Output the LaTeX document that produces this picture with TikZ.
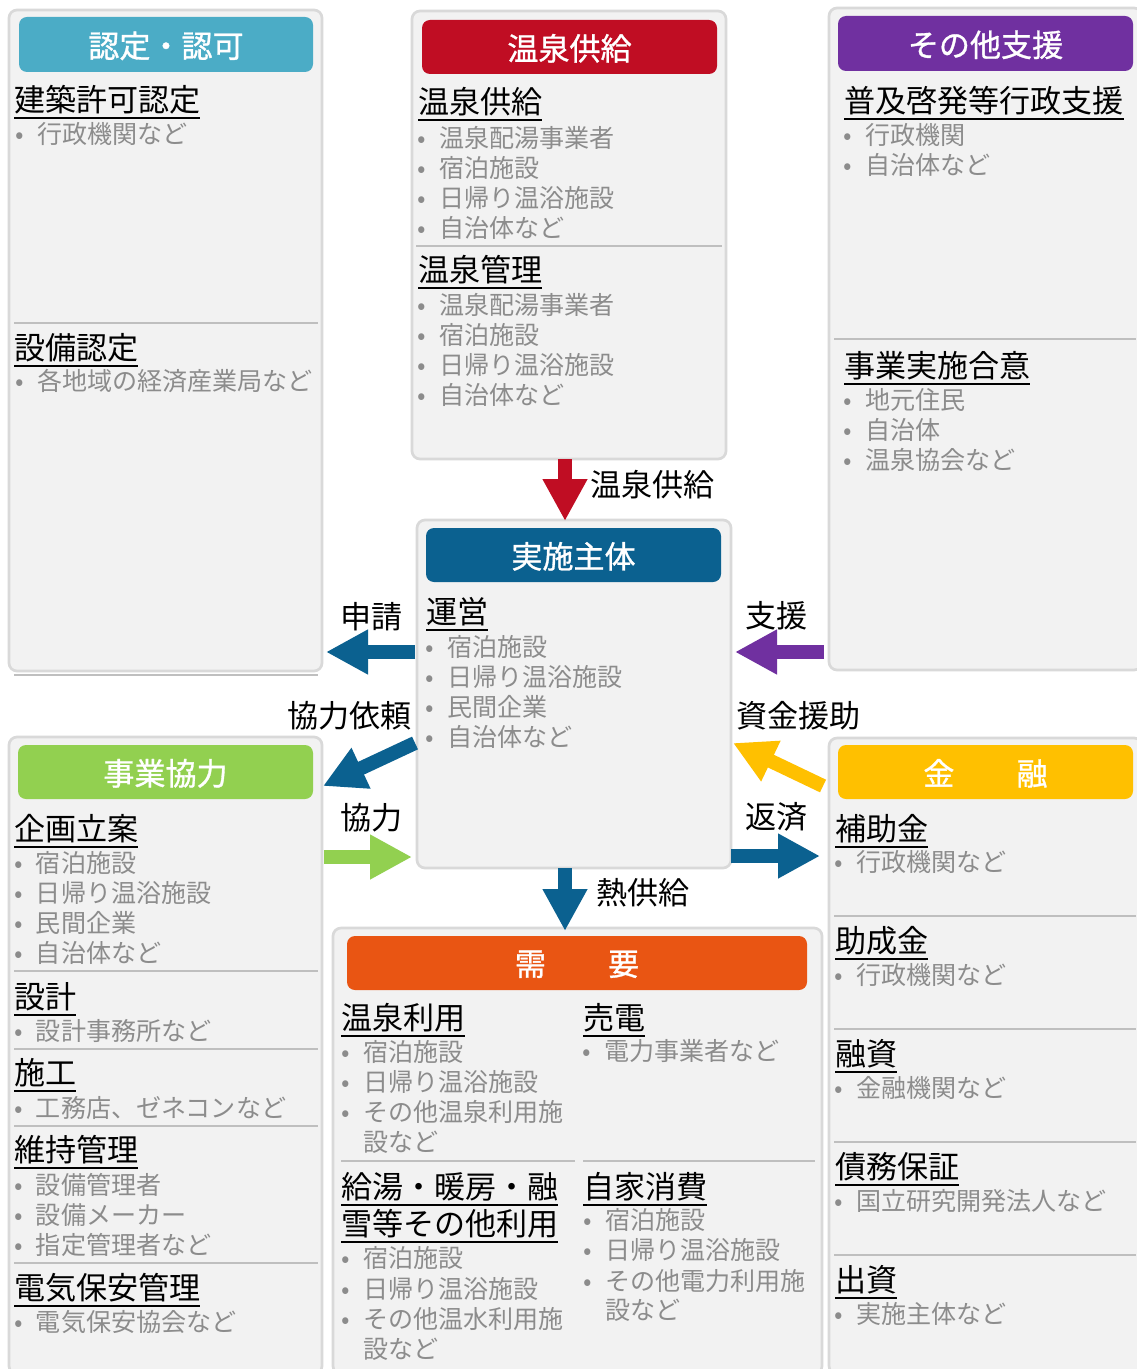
\documentclass[tikz,border=0pt]{standalone}
\usepackage{fontspec}
\setmainfont{Noto Sans CJK JP}
\newfontfamily\hdrfam[FakeBold=1]{Noto Sans CJK JP}
\usetikzlibrary{arrows.meta,fit}

\definecolor{boxfill}{HTML}{F2F2F2}
\definecolor{boxline}{HTML}{D9D9D9}
\definecolor{sepline}{HTML}{BFBFBF}
\definecolor{graytxt}{HTML}{8C8C8C}
\definecolor{cteal}{HTML}{4BACC6}
\definecolor{cred}{HTML}{C00D23}
\definecolor{cpurple}{HTML}{7030A0}
\definecolor{cblue}{HTML}{0B6190}
\definecolor{cgreen}{HTML}{92D050}
\definecolor{corange}{HTML}{E95513}
\definecolor{cyellow}{HTML}{FFC000}

\newcommand\hfont{\fontsize{23.3}{28}\selectfont}
\newcommand\hdrfont{\hdrfam\fontsize{23.3}{28}\selectfont}
\newcommand\bfont{\fontsize{18.8}{22}\selectfont}
\newcommand\hul[1]{\leavevmode\vtop{\hbox{#1}\kern2.2pt\hrule height1.4pt}}

\newcounter{tn}
\newcommand\hd[3]{\stepcounter{tn}\node[hd] (t\arabic{tn}) at (#1,#2) {\hul{#3}};}
\newcommand\bl[3]{\stepcounter{tn}\node[bt] (t\arabic{tn}) at (#1,#2) {#3};%
  \stepcounter{tn}\node[bd] (t\arabic{tn}) at ({#1-17},#2) {•};}
\newcommand\bc[3]{\stepcounter{tn}\node[bt] (t\arabic{tn}) at (#1,#2) {#3};}
\newcommand\lb[3]{\stepcounter{tn}\node[lab] (t\arabic{tn}) at (#1,#2) {#3};}

\tikzset{
 every node/.style={inner sep=0pt, outer sep=0pt},
 outerbox/.style={draw=boxline, line width=2pt, fill=boxfill, rounded corners=6pt},
 hdrbar/.style={rounded corners=6pt},
 hdrtxt/.style={text=white, font=\hdrfont, yshift=-1pt},
 sepl/.style={draw=sepline, line width=2.2pt},
 hd/.style={anchor=base west, font=\hfont, text=black, yshift=-8.8pt},
 bt/.style={anchor=base west, font=\bfont, text=graytxt, yshift=-7.1pt},
 bd/.style={anchor=base, font=\bfont, text=graytxt, yshift=-7.1pt},
 lab/.style={anchor=base west, font=\hfont, text=black, yshift=-8.8pt},
 fat/.style={line width=10.5pt, -{Triangle[length=31.5pt,width=31.5pt]}},
}

\begin{document}
\begin{tikzpicture}[x=0.75pt,y=-0.75pt]
\useasboundingbox (0,0) rectangle (1136,1369);
\fill[white] (0,0) rectangle (1136,1369);

% ---------- outer boxes ----------
\node[outerbox, fit={(9,10)(322,671)}] (A) {};
\node[outerbox, fit={(412,11)(726,459)}] (B) {};
\node[outerbox, fit={(829,8)(1142,670)}] (C) {};
\node[outerbox, fit={(417,520)(731,868)}] (D) {};
\node[outerbox, fit={(9,737)(322,1374)}] (E) {};
\node[outerbox, fit={(333,928)(822,1374)}] (F) {};
\node[outerbox, fit={(829,738)(1142,1374)}] (G) {};

% ---------- header bars ----------
\node[hdrbar, fill=cteal, fit={(19,17)(313,72)}] (hA) {};
\node[hdrtxt] (hAt) at (hA.center) {認定・認可};
\node[hdrbar, fill=cred, fit={(422,20)(717,74)}] (hB) {};
\node[hdrtxt] (hBt) at (hB.center) {温泉供給};
\node[hdrbar, fill=cpurple, fit={(838,16)(1133,71)}] (hC) {};
\node[hdrtxt] (hCt) at (hC.center) {その他支援};
\node[hdrbar, fill=cblue, fit={(426,528)(721,582)}] (hD) {};
\node[hdrtxt] (hDt) at (hD.center) {実施主体};
\node[hdrbar, fill=cgreen, fit={(18,745)(313,799)}] (hE) {};
\node[hdrtxt] (hEt) at (hE.center) {事業協力};
\node[hdrbar, fill=corange, fit={(347,936)(807,990)}] (hF) {};
\node[hdrtxt] (hFt) at (hF.center) {需　　要};
\node[hdrbar, fill=cyellow, fit={(838,745)(1133,799)}] (hG) {};
\node[hdrtxt] (hGt) at (hG.center) {金　　融};

% ---------- A: 認定・認可 ----------
\hd{14}{100}{建築許可認定}
\bl{37}{134}{行政機関など}
\draw[sepl] (14,323) -- (318,323);
\hd{14}{348}{設備認定}
\bl{37}{381}{各地域の経済産業局など}
\draw[sepl] (14,675) -- (318,675);

% ---------- B: 温泉供給 ----------
\hd{418}{102}{温泉供給}
\bl{439}{138}{温泉配湯事業者}
\bl{439}{168}{宿泊施設}
\bl{439}{198}{日帰り温浴施設}
\bl{439}{228}{自治体など}
\draw[sepl] (416,246) -- (722,246);
\hd{418}{270}{温泉管理}
\bl{439}{305}{温泉配湯事業者}
\bl{439}{335}{宿泊施設}
\bl{439}{365}{日帰り温浴施設}
\bl{439}{395}{自治体など}

% ---------- C: その他支援 ----------
\hd{844}{101}{普及啓発等行政支援}
\bl{865}{135}{行政機関}
\bl{865}{165}{自治体など}
\draw[sepl] (834,339) -- (1136,339);
\hd{844}{366}{事業実施合意}
\bl{865}{400}{地元住民}
\bl{865}{430}{自治体}
\bl{865}{460}{温泉協会など}

% ---------- D: 実施主体 ----------
\hd{426}{612}{運営}
\bl{447}{647}{宿泊施設}
\bl{447}{677}{日帰り温浴施設}
\bl{447}{707}{民間企業}
\bl{447}{737}{自治体など}

% ---------- E: 事業協力 ----------
\hd{14}{829}{企画立案}
\bl{36}{863}{宿泊施設}
\bl{36}{893}{日帰り温浴施設}
\bl{36}{923}{民間企業}
\bl{36}{953}{自治体など}
\draw[sepl] (14,971) -- (318,971);
\hd{14}{997}{設計}
\bl{36}{1031}{設計事務所など}
\draw[sepl] (14,1049) -- (318,1049);
\hd{14}{1073}{施工}
\bl{36}{1108}{工務店、ゼネコンなど}
\draw[sepl] (14,1126) -- (318,1126);
\hd{14}{1150}{維持管理}
\bl{36}{1185}{設備管理者}
\bl{36}{1215}{設備メーカー}
\bl{36}{1245}{指定管理者など}
\draw[sepl] (14,1263) -- (318,1263);
\hd{14}{1288}{電気保安管理}
\bl{36}{1322}{電気保安協会など}

% ---------- F: 需要 ----------
\hd{341}{1018}{温泉利用}
\bl{363}{1052}{宿泊施設}
\bl{363}{1082}{日帰り温浴施設}
\bl{363}{1112}{その他温泉利用施}
\bc{363}{1142}{設など}
\draw[sepl] (341,1161) -- (575,1161);
\hd{583}{1018}{売電}
\bl{604}{1051}{電力事業者など}
\draw[sepl] (583,1161) -- (815,1161);
\hd{341}{1187}{給湯・暖房・融}
\hd{341}{1224}{雪等その他利用}
\bl{363}{1258}{宿泊施設}
\bl{363}{1289}{日帰り温浴施設}
\bl{363}{1319}{その他温水利用施}
\bc{363}{1349}{設など}
\hd{583}{1187}{自家消費}
\bl{605}{1220}{宿泊施設}
\bl{605}{1250}{日帰り温浴施設}
\bl{605}{1281}{その他電力利用施}
\bc{605}{1310}{設など}

% ---------- G: 金融 ----------
\hd{835}{829}{補助金}
\bl{856}{862}{行政機関など}
\draw[sepl] (834,916) -- (1136,916);
\hd{835}{941}{助成金}
\bl{856}{975}{行政機関など}
\draw[sepl] (834,1029) -- (1136,1029);
\hd{835}{1054}{融資}
\bl{856}{1088}{金融機関など}
\draw[sepl] (834,1142) -- (1136,1142);
\hd{835}{1167}{債務保証}
\bl{856}{1201}{国立研究開発法人など}
\draw[sepl] (834,1255) -- (1136,1255);
\hd{835}{1280}{出資}
\bl{856}{1314}{実施主体など}

% ---------- arrows ----------
\coordinate (a1s) at (565,459);  \coordinate (a1e) at (565,521);
\coordinate (a2s) at (415,652);  \coordinate (a2e) at (326,652);
\coordinate (a3s) at (824,652);  \coordinate (a3e) at (735,652);
\coordinate (a4s) at (415,743);  \coordinate (a4e) at (323,786);
\coordinate (a5s) at (324,857);  \coordinate (a5e) at (412,857);
\coordinate (a6s) at (823,786);  \coordinate (a6e) at (733,743);
\coordinate (a7s) at (731,856);  \coordinate (a7e) at (820,856);
\coordinate (a8s) at (565,868);  \coordinate (a8e) at (565,931);

\draw[fat, cred] (a1s) -- (a1e);
\draw[fat, cblue] (a2s) -- (a2e);
\draw[fat, cpurple] (a3s) -- (a3e);
\draw[fat, cblue] (a4s) -- (a4e);
\draw[fat, cgreen] (a5s) -- (a5e);
\draw[fat, cyellow] (a6s) -- (a6e);
\draw[fat, cblue] (a7s) -- (a7e);
\draw[fat, cblue] (a8s) -- (a8e);

% ---------- arrow labels ----------
\lb{590}{485}{温泉供給}
\lb{340}{617}{申請}
\lb{745}{616}{支援}
\lb{287}{716}{協力依頼}
\lb{736}{716}{資金援助}
\lb{340}{818}{協力}
\lb{745}{817}{返済}
\lb{596}{893}{熱供給}
\end{tikzpicture}
\end{document}
